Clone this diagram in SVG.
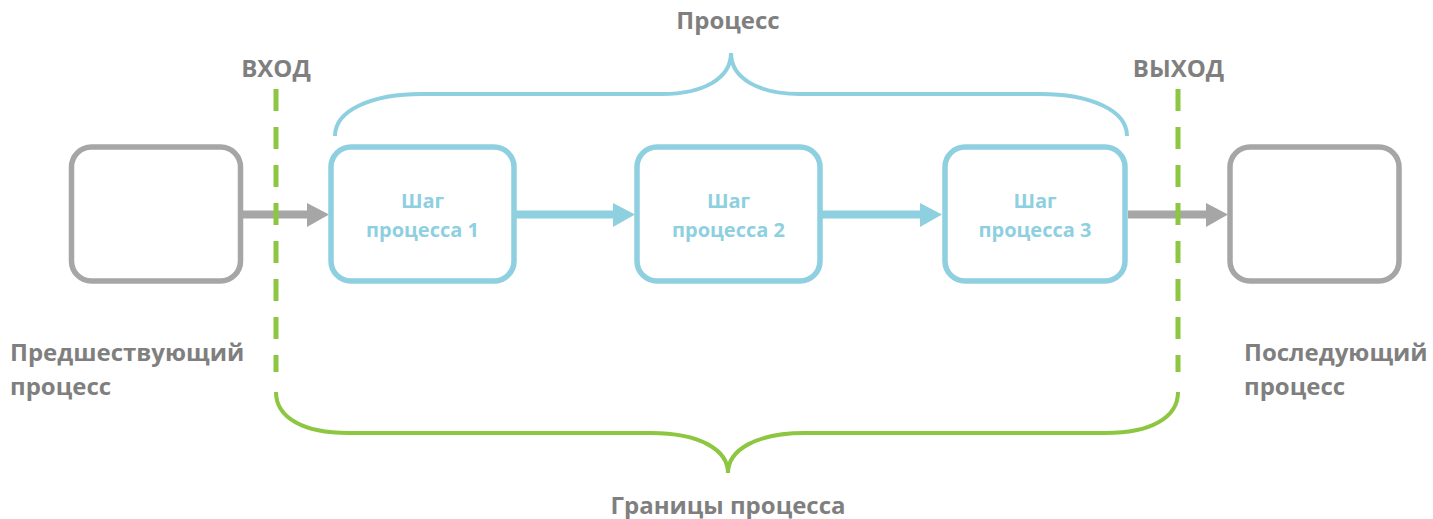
<svg xmlns="http://www.w3.org/2000/svg" width="1433" height="519" viewBox="0 0 1433 519">
<defs>
<style>
.gbox{fill:#ffffff;stroke:#a6a6a6;stroke-width:5.5}
.bbox{fill:#ffffff;stroke:#8ecfe0;stroke-width:5.5}
.lbl{font-family:"Open Sans","Liberation Sans",sans-serif;font-weight:700;fill:#7f7f7f;font-size:24px}
.blbl{font-family:"Open Sans","Liberation Sans",sans-serif;font-weight:700;fill:#8ecfe0;font-size:20px;text-anchor:middle}
.gshaft{stroke:#a6a6a6;stroke-width:8;fill:none}
.bshaft{stroke:#8ecfe0;stroke-width:8;fill:none}
.ghead{fill:#a6a6a6}
.bhead{fill:#8ecfe0}
.dash{stroke:#8dc641;stroke-width:5;stroke-dasharray:22 16;fill:none}
.gbrace{stroke:#8dc641;stroke-width:4;fill:none}
.bbrace{stroke:#8ecfe0;stroke-width:4;fill:none}
</style>
</defs>
<rect width="1433" height="519" fill="#ffffff"/>
<g id="connectors">
<line class="gshaft" x1="243" y1="214.5" x2="309" y2="214.5"/>
<polygon class="ghead" points="307,203 329,214.5 307,227"/>
<line class="bshaft" x1="516" y1="214.5" x2="615" y2="214.5"/>
<polygon class="bhead" points="613,203 635,214.5 613,227"/>
<line class="bshaft" x1="822" y1="214.5" x2="922" y2="214.5"/>
<polygon class="bhead" points="920,203 942,214.5 920,227"/>
<line class="gshaft" x1="1128" y1="214.5" x2="1208" y2="214.5"/>
<polygon class="ghead" points="1206,203 1228,214.5 1206,227"/>
</g>
<g id="boundary-input">
<line class="dash" x1="276" y1="89" x2="276" y2="372"/>
<text class="lbl" x="276" y="77" text-anchor="middle">ВХОД</text>
</g>
<g id="boundary-output">
<line class="dash" x1="1178" y1="89" x2="1178" y2="372"/>
<text class="lbl" x="1178.5" y="77" text-anchor="middle">ВЫХОД</text>
</g>
<g id="process-brace">
<path class="bbrace" d="M335,136 C335,110 372,94 422,94 L662,94 C704,94 731,78 731,53 C731,78 758,94 800,94 L1040,94 C1090,94 1127,110 1127,136"/>
<text class="lbl" x="728" y="29" text-anchor="middle">Процесс</text>
</g>
<g id="boundary-brace">
<path class="gbrace" d="M276,392 C276,418 304,433 348,433 L651,433 C700,433 728,450 728,473 C728,450 756,433 805,433 L1106,433 C1150,433 1178,418 1178,392"/>
<text class="lbl" x="728" y="514" text-anchor="middle">Границы процесса</text>
</g>
<g id="prev-process">
<rect class="gbox" x="71.5" y="147" width="169" height="134" rx="20"/>
<text class="lbl" x="10" y="361">Предшествующий</text>
<text class="lbl" x="10" y="395">процесс</text>
</g>
<g id="step1">
<rect class="bbox" x="331" y="147" width="183" height="134" rx="20"/>
<text class="blbl" x="422.5" y="208">Шаг</text>
<text class="blbl" x="422.5" y="237">процесса 1</text>
</g>
<g id="step2">
<rect class="bbox" x="637" y="147" width="183" height="134" rx="20"/>
<text class="blbl" x="728.5" y="208">Шаг</text>
<text class="blbl" x="728.5" y="237">процесса 2</text>
</g>
<g id="step3">
<rect class="bbox" x="945" y="147" width="180" height="134" rx="20"/>
<text class="blbl" x="1035" y="208">Шаг</text>
<text class="blbl" x="1035" y="237">процесса 3</text>
</g>
<g id="next-process">
<rect class="gbox" x="1230" y="147" width="169" height="134" rx="20"/>
<text class="lbl" x="1244" y="361">Последующий</text>
<text class="lbl" x="1244" y="395">процесс</text>
</g>
</svg>
